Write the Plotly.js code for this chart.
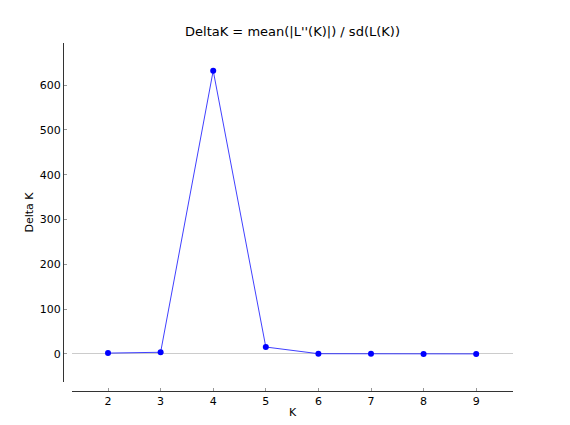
<!DOCTYPE html>
<html><head><meta charset="utf-8">
<script src="https://cdn.plot.ly/plotly-3.0.1.min.js"></script>
<style>html,body{margin:0;padding:0;background:#fff;}</style>
</head><body>
<div id="chart" style="width:570px;height:425px;"></div>
<script>
const K = [2, 3, 4, 5, 6, 7, 8, 9];
const deltaK = [2.0, 3.8, 632, 15.5, 0.6, 0.4, -0.3, 0.2];
const xTicks = [2, 3, 4, 5, 6, 7, 8, 9];
const yTicks = [0, 100, 200, 300, 400, 500, 600];

const font = {family: 'DejaVu Sans, sans-serif', size: 11, color: '#000'};
Plotly.newPlot('chart', [{
  x: K, y: deltaK, type: 'scatter', mode: 'lines+markers',
  line: {color: 'rgba(0,0,255,0.75)', width: 1},
  marker: {color: '#0000ff', size: 6}
}], {
  width: 570, height: 425,
  margin: {l: 63, r: 57, t: 43, b: 34},
  paper_bgcolor: '#fff', plot_bgcolor: '#fff',
  showlegend: false,
  font: font,
  title: {text: "DeltaK = mean(|L''(K)|) / sd(L(K))", font: {family: 'DejaVu Sans, sans-serif', size: 13, color: '#000'},
    x: 0.51, xref: 'paper', xanchor: 'center', y: 1 - 31/425, yref: 'container', yanchor: 'middle'},
  xaxis: {
    domain: [0.02, 1], anchor: 'free', position: 0,
    range: [1.315, 9.70], tickvals: xTicks, ticktext: xTicks.map(String),
    showgrid: false, zeroline: false, showline: true, linecolor: '#333', linewidth: 1,
    ticks: 'inside', ticklen: 3, tickcolor: '#999', tickfont: font,
    title: {text: 'K', font: font, standoff: 1}
  },
  yaxis: {
    domain: [9/348, 1], anchor: 'free', position: 0,
    range: [-62.5, 693.7], tickvals: yTicks, ticktext: yTicks.map(String),
    showgrid: false, zeroline: true, zerolinecolor: '#cccccc', zerolinewidth: 1,
    showline: true, linecolor: '#333', linewidth: 1,
    ticks: 'inside', ticklen: 3, tickcolor: '#999', tickfont: font,
    title: {text: 'Delta K', font: font, standoff: 2}
  }
}, {staticPlot: true, displayModeBar: false});
</script>
</body></html>
